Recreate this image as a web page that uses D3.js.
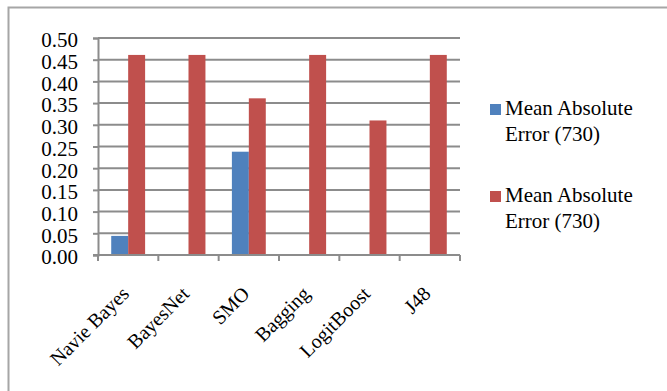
<!DOCTYPE html>
<html>
<head>
<meta charset="utf-8">
<script src="https://cdn.jsdelivr.net/npm/d3@7"></script>
<style>
  body { margin: 0; background: #fff; }
  svg { display: block; font-family: 'Liberation Serif', 'Times New Roman', serif; }
</style>
</head>
<body>
<div id="chart"></div>
<script>
const categories = ['Navie Bayes', 'BayesNet', 'SMO', 'Bagging', 'LogitBoost', 'J48']
const seriesNames = ['Mean Absolute Error (730)', 'Mean Absolute Error (730)']
const blueValues = [0.044, 0, 0.238, 0, 0, 0]
const redValues = [0.461, 0.461, 0.361, 0.461, 0.31, 0.461]
const yTicks = [0, 0.05, 0.1, 0.15, 0.2, 0.25, 0.3, 0.35, 0.4, 0.45, 0.5]

const colors = ['#4f81bd', '#c0504d']
const width = 667
const height = 391
const margin = { top: 38, left: 98, right: 207, bottom: 136 }

const svg = d3.select('#chart')
  .append('svg')
  .attr('width', width)
  .attr('height', height)

// outer frame (right/bottom run off the picture)
svg.append('rect')
  .attr('x', 8.5).attr('y', 7.5)
  .attr('width', 700).attr('height', 420)
  .attr('fill', 'none')
  .attr('stroke', '#a6a6a6')
  .attr('stroke-width', 2)

const x0 = d3.scaleBand()
  .domain(d3.range(categories.length))
  .range([margin.left, width - margin.right])

const x1 = d3.scaleBand()
  .domain([0, 1])
  .range([0, x0.bandwidth()])
  .paddingOuter(0.78)

const y = d3.scaleLinear()
  .domain([0, 0.5])
  .range([height - margin.bottom, margin.top])

// gridlines
svg.selectAll('.grid')
  .data(yTicks.slice(1))
  .enter()
  .append('line')
  .attr('x1', margin.left)
  .attr('x2', width - margin.right)
  .attr('y1', d => y(d))
  .attr('y2', d => y(d))
  .attr('stroke', '#8c8c8c')
  .attr('stroke-width', 2)

// y axis
const yAxis = svg.append('g')
  .attr('transform', `translate(${margin.left},0)`)
  .call(d3.axisLeft(y).tickValues(yTicks).tickFormat(d3.format('.2f')).tickSize(5).tickPadding(15))
yAxis.select('.domain').attr('stroke', '#8c8c8c').attr('stroke-width', 2)
yAxis.selectAll('.tick line').attr('stroke', '#8c8c8c').attr('stroke-width', 2)
yAxis.selectAll('.tick text')
  .attr('font-family', 'Liberation Serif')
  .attr('font-size', 21)
  .attr('fill', '#000')
  .attr('dy', '0.42em')

// bars
const data = categories.map((c, i) => [blueValues[i], redValues[i]])
const groups = svg.selectAll('.group')
  .data(data)
  .enter()
  .append('g')
  .attr('transform', (d, i) => `translate(${x0(i)},0)`)

groups.selectAll('rect')
  .data(d => d.map((v, j) => ({ v, j })))
  .enter()
  .append('rect')
  .attr('x', d => x1(d.j))
  .attr('width', x1.bandwidth())
  .attr('y', d => y(d.v))
  .attr('height', d => y(0) - y(d.v))
  .attr('fill', d => colors[d.j])

// x axis
const xAxis = svg.append('g')
  .attr('transform', `translate(0,${y(0)})`)
xAxis.append('line')
  .attr('x1', margin.left - 5)
  .attr('x2', width - margin.right)
  .attr('stroke', '#8c8c8c')
  .attr('stroke-width', 2)
xAxis.selectAll('.xtick')
  .data(d3.range(categories.length + 1))
  .enter()
  .append('line')
  .attr('x1', i => margin.left + i * x0.step())
  .attr('x2', i => margin.left + i * x0.step())
  .attr('y1', 0)
  .attr('y2', 6)
  .attr('stroke', '#8c8c8c')
  .attr('stroke-width', 2)

xAxis.selectAll('.xlabel')
  .data(categories)
  .enter()
  .append('text')
  .text(d => d)
  .attr('text-anchor', 'end')
  .attr('font-size', 20)
  .attr('transform', (d, i) => `translate(${x0(i) + x0.bandwidth() / 2 + 2},${40}) rotate(-45)`)

// legend
const legend = svg.append('g')
  .attr('transform', 'translate(490,0)')
const legendY = [104, 191]
seriesNames.forEach((name, i) => {
  legend.append('rect')
    .attr('x', 0)
    .attr('y', legendY[i])
    .attr('width', 11)
    .attr('height', 11)
    .attr('fill', colors[i])
  const words = name.split(' ')
  const t = legend.append('text')
    .attr('x', 15)
    .attr('y', legendY[i] + 11)
    .attr('font-size', 21)
  t.append('tspan').attr('x', 15).text(words.slice(0, 2).join(' '))
  t.append('tspan').attr('x', 15).attr('dy', 26).text(words.slice(2).join(' '))
})
</script>
</body>
</html>
